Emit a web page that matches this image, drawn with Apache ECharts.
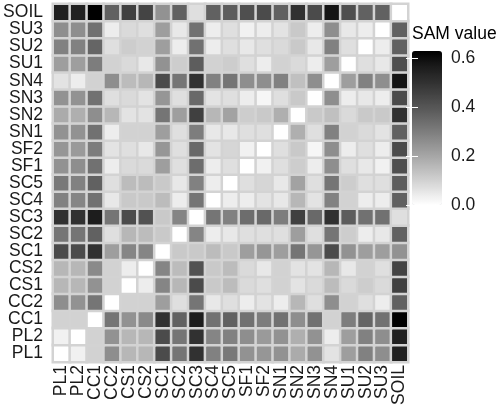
<!DOCTYPE html>
<html><head><meta charset="utf-8">
<script src="https://cdn.jsdelivr.net/npm/echarts@6/dist/echarts.min.js"></script>
<style>html,body{margin:0;padding:0;background:#fff}#c{width:498px;height:416px}</style>
</head><body><div id="c"></div>
<script>
const labels = ['PL1','PL2','CC1','CC2','CS1','CS2','SC1','SC2','SC3','SC4','SC5','SF1','SF2','SN1','SN2','SN3','SN4','SU1','SU2','SU3','SOIL'];
// rows in the same order as labels (bottom to top), columns left to right
const samValues = [
 [0,0.03,0.10,0.26,0.16,0.16,0.43,0.32,0.50,0.29,0.31,0.25,0.24,0.25,0.19,0.25,0.06,0.22,0.29,0.26,0.55],
 [0.03,0,0.10,0.25,0.16,0.16,0.43,0.32,0.50,0.28,0.29,0.26,0.23,0.25,0.18,0.25,0.04,0.22,0.29,0.26,0.55],
 [0.10,0.10,0,0.32,0.25,0.27,0.50,0.37,0.56,0.33,0.37,0.33,0.30,0.33,0.26,0.33,0.10,0.30,0.36,0.33,0.63],
 [0.26,0.25,0.32,0,0.10,0.10,0.22,0.07,0.32,0.05,0.07,0.04,0.06,0.04,0.16,0.07,0.26,0.10,0.07,0.04,0.37],
 [0.16,0.16,0.25,0.10,0,0.04,0.28,0.16,0.43,0.12,0.15,0.08,0.07,0.10,0.06,0.08,0.15,0.08,0.11,0.08,0.46],
 [0.16,0.16,0.27,0.10,0.04,0,0.28,0.15,0.41,0.12,0.15,0.08,0.05,0.10,0.06,0.06,0.16,0.05,0.10,0.07,0.45],
 [0.43,0.43,0.50,0.22,0.28,0.28,0,0.12,0.12,0.15,0.12,0.22,0.24,0.22,0.32,0.24,0.43,0.25,0.22,0.22,0.25],
 [0.32,0.32,0.37,0.07,0.16,0.15,0.12,0,0.28,0.04,0.05,0.07,0.07,0.07,0.22,0.07,0.32,0.11,0.04,0.05,0.37],
 [0.50,0.50,0.56,0.32,0.43,0.41,0.12,0.28,0,0.32,0.29,0.34,0.35,0.30,0.46,0.35,0.50,0.38,0.33,0.33,0.07],
 [0.29,0.28,0.33,0.05,0.12,0.12,0.15,0.04,0.32,0,0.04,0.04,0.06,0.05,0.16,0.06,0.29,0.10,0.04,0.04,0.37],
 [0.31,0.29,0.37,0.07,0.15,0.15,0.12,0.05,0.29,0.04,0,0.07,0.09,0.05,0.21,0.07,0.32,0.11,0.07,0.07,0.38],
 [0.25,0.26,0.33,0.04,0.08,0.08,0.22,0.07,0.34,0.04,0.07,0,0.03,0.07,0.11,0.04,0.26,0.07,0.05,0.03,0.42],
 [0.24,0.23,0.30,0.06,0.07,0.05,0.24,0.07,0.35,0.06,0.09,0.03,0,0.07,0.12,0.02,0.26,0.04,0.07,0.04,0.43],
 [0.25,0.25,0.33,0.04,0.10,0.10,0.22,0.07,0.30,0.05,0.05,0.07,0.07,0,0.18,0.07,0.29,0.10,0.08,0.06,0.37],
 [0.19,0.18,0.26,0.16,0.06,0.06,0.32,0.22,0.46,0.16,0.21,0.11,0.12,0.18,0,0.12,0.14,0.08,0.12,0.12,0.50],
 [0.25,0.25,0.33,0.07,0.08,0.06,0.24,0.07,0.35,0.06,0.07,0.04,0.02,0.07,0.12,0,0.26,0.04,0.05,0.04,0.43],
 [0.06,0.04,0.10,0.26,0.15,0.16,0.43,0.32,0.50,0.29,0.32,0.26,0.26,0.29,0.14,0.26,0,0.22,0.29,0.26,0.58],
 [0.22,0.22,0.30,0.10,0.08,0.05,0.25,0.11,0.38,0.10,0.11,0.07,0.04,0.10,0.08,0.04,0.22,0,0.07,0.05,0.42],
 [0.29,0.29,0.36,0.07,0.11,0.10,0.22,0.04,0.33,0.04,0.07,0.05,0.07,0.08,0.12,0.05,0.29,0.07,0,0.04,0.37],
 [0.26,0.26,0.33,0.04,0.08,0.07,0.22,0.05,0.33,0.04,0.07,0.03,0.04,0.06,0.12,0.04,0.26,0.05,0.04,0,0.37],
 [0.55,0.55,0.63,0.37,0.46,0.45,0.25,0.37,0.07,0.37,0.38,0.42,0.43,0.37,0.50,0.43,0.58,0.42,0.37,0.37,0]
];
const legendTicks = [0, 0.2, 0.4, 0.6];
const legendTitle = 'SAM value';

const data = [];
for (let i = 0; i < labels.length; i++)
  for (let j = 0; j < labels.length; j++)
    data.push([j, i, samValues[i][j]]);

const FONT = 'Liberation Sans, Arial, sans-serif';
const FS = 17.5;
const TXT = '#1a1a1a';
const chart = echarts.init(document.getElementById('c'), null, {renderer: 'canvas'});
chart.setOption({
  animation: false,
  backgroundColor: '#fff',
  title: {text: legendTitle, left: 412, top: 25, padding: 0,
    textStyle: {fontFamily: FONT, fontSize: FS, fontWeight: 'normal', color: '#000'}},
  grid: [
    {left: 53, right: 90, top: 4, bottom: 54},
    {left: 412, top: 51, width: 30, height: 154}
  ],
  xAxis: [
    {type: 'category', data: labels, gridIndex: 0,
     axisLine: {show: false}, splitLine: {show: false},
     axisTick: {alignWithLabel: true, length: 5, lineStyle: {color: '#333'}},
     axisLabel: {rotate: 90, fontFamily: FONT, fontSize: FS, color: TXT, margin: 3, interval: 0}},
    {type: 'value', gridIndex: 1, show: false}
  ],
  yAxis: [
    {type: 'category', data: labels, gridIndex: 0,
     axisLine: {show: false}, splitLine: {show: false},
     axisTick: {alignWithLabel: true, length: 6, lineStyle: {color: '#333'}},
     axisLabel: {fontFamily: FONT, fontSize: FS, color: TXT, margin: 10, interval: 0}},
    {type: 'value', gridIndex: 1, position: 'right', min: 0, max: 0.63, z: 10,
     axisLine: {show: false}, splitLine: {show: false},
     axisTick: {show: true, inside: true, length: 6, customValues: legendTicks, lineStyle: {color: '#fff', width: 1}},
     axisLabel: {customValues: legendTicks, formatter: v => v.toFixed(1), fontFamily: FONT, fontSize: FS, color: TXT, margin: 9}},
    {type: 'value', gridIndex: 1, position: 'left', min: 0, max: 0.63, z: 10,
     axisLine: {show: false}, splitLine: {show: false},
     axisTick: {show: true, inside: true, length: 6, customValues: legendTicks, lineStyle: {color: '#fff', width: 1}},
     axisLabel: {show: false}}
  ],
  visualMap: {
    type: 'continuous', min: 0, max: 0.63, seriesIndex: 0,
    left: 412, top: 51, itemWidth: 30, itemHeight: 154, padding: 0,
    calculable: false, hoverLink: false, text: null, showLabel: false,
    inRange: {color: ['#ffffff','#e2e2e2','#c6c6c6','#ababab','#919191','#777777','#5e5e5e','#474747','#303030','#1b1b1b','#000000']}
  },
  series: [{
    type: 'heatmap', xAxisIndex: 0, yAxisIndex: 0, data: data,
    itemStyle: {borderColor: '#d3d3d3', borderWidth: 2.5},
    emphasis: {disabled: true}
  }]
});
</script></body></html>
